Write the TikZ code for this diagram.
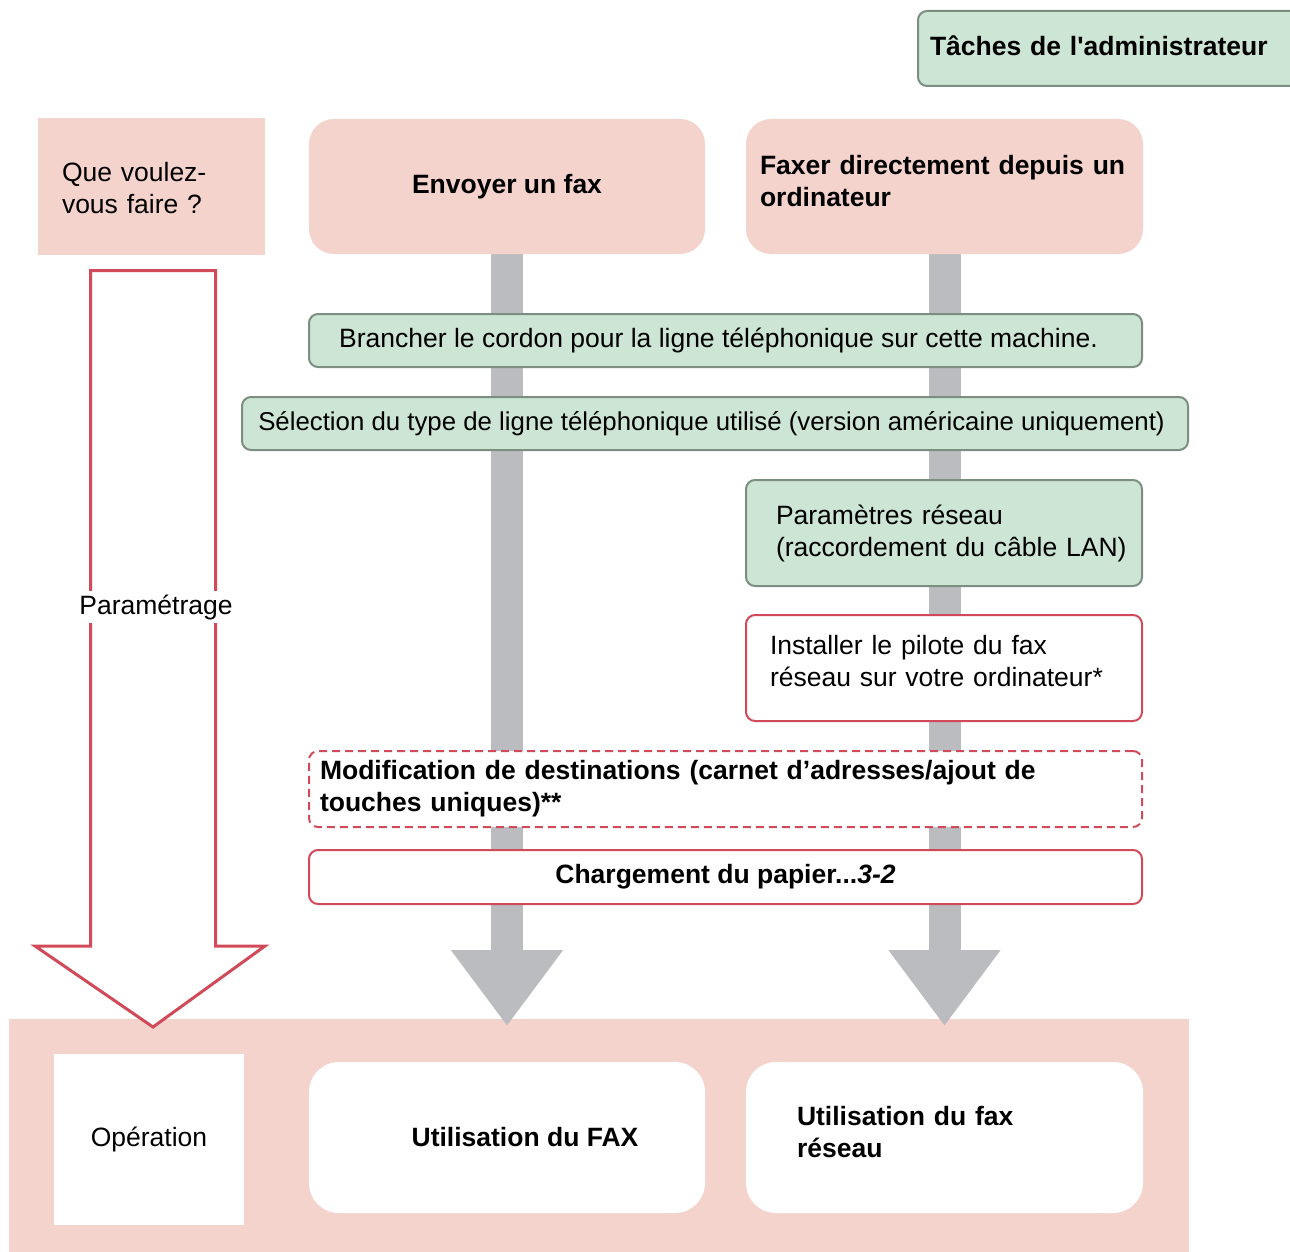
\documentclass[tikz,border=0pt]{standalone}
\usepackage{fontspec}
\setmainfont{Liberation Sans}
\usetikzlibrary{arrows.meta}
\definecolor{pinkc}{HTML}{F4D3CD}
\definecolor{greenc}{HTML}{CCE5D4}
\definecolor{greenb}{HTML}{7B8E80}
\definecolor{redc}{HTML}{D04A5A}
\definecolor{grayc}{HTML}{BBBCC0}
\pgfdeclarelayer{bg}
\pgfsetlayers{bg,main}
\newcommand{\liftby}[1]{\par\vspace{#1}\hrule height0pt}
\newcommand{\dropby}[1]{\hrule height0pt\vspace{#1}}
\tikzset{
  txt/.style={font=\fontsize{26.5}{32}\selectfont},
  btxt/.style={font=\fontsize{26.5}{32}\selectfont\bfseries},
  pinkbox/.style={fill=pinkc, draw=none, rounded corners=25pt},
  greenbox/.style={fill=greenc, draw=greenb, line width=2pt, rounded corners=9pt},
  redbox/.style={fill=white, draw=redc, line width=2pt, rounded corners=9pt},
  whitebox/.style={fill=white, draw=none, rounded corners=30pt},
  bigarrow/.style={draw=grayc, line width=32pt, -{Triangle[width=107pt,length=76pt]}},
}
\begin{document}
\begin{tikzpicture}[x=1pt,y=-1pt]
\useasboundingbox (0,0) rectangle (1290,1252);
\clip (0,0) rectangle (1290,1252);

% header
\node[greenbox, btxt, minimum width=382pt, minimum height=75pt, inner xsep=12pt, text width=358pt, align=left] (adm) at (1109,48.5) {T\^aches de l\textquotesingle administrateur\liftby{6pt}};

\node[fill=pinkc, txt, minimum width=227pt, minimum height=137pt, inner xsep=24pt, text width=179pt, align=left] (que) at (151.5,186.5) {\dropby{4pt}Que voulez-\\vous faire ?};
\node[pinkbox, btxt, minimum width=396pt, minimum height=135pt] (env) at (507,186.5) {Envoyer un fax};
\node[pinkbox, btxt, minimum width=397pt, minimum height=135pt, inner xsep=14pt, text width=369pt, align=left] (fax) at (944.5,186.5) {Faxer directement depuis un\\ordinateur\liftby{10pt}};

% steps
\node[greenbox, txt, minimum width=833pt, minimum height=53pt] (bran) at (725.5,340.5) {\hspace*{-14pt}Brancher le cordon pour la ligne téléphonique sur cette machine.};
\node[greenbox, font=\fontsize{25.8}{32}\selectfont, minimum width=946pt, minimum height=53pt] (sel) at (715,423.5) {\hspace*{-7pt}Sélection du type de ligne téléphonique utilisé (version américaine uniquement)};
\node[greenbox, txt, minimum width=396pt, minimum height=106pt, inner xsep=30pt, text width=336pt, align=left] (par) at (944,533) {Paramètres réseau\\\mbox{(raccordement du câble LAN)}};
\node[redbox, txt, minimum width=396pt, minimum height=106pt, inner xsep=24pt, text width=348pt, align=left] (inst) at (944,668) {Installer le pilote du fax\\réseau sur votre ordinateur*\liftby{14pt}};
\node[redbox, dash pattern=on 8pt off 5pt, btxt, minimum width=833pt, minimum height=76pt, inner xsep=11pt, text width=811pt, align=left] (mod) at (725.5,789) {Modification de destinations (carnet d’adresses/ajout de\\touches uniques)**};
\node[redbox, btxt, minimum width=833pt, minimum height=54pt] (charg) at (725.5,877) {Chargement du papier...\textit{3-2}};

% bottom
\node[fill=white, txt, minimum width=190pt, minimum height=171pt] (op) at (149,1139.5) {Opération};
\node[whitebox, btxt, minimum width=396pt, minimum height=151pt] (u1) at (507,1137.5) {\hspace*{36pt}Utilisation du FAX};
\node[whitebox, btxt, minimum width=397pt, minimum height=151pt, inner xsep=51pt, text width=295pt, align=left] (u2) at (944.5,1137.5) {Utilisation du fax\\réseau\liftby{10pt}};

\begin{pgfonlayer}{bg}
\node[fill=pinkc, minimum width=1180pt, minimum height=240pt, anchor=north west, inner sep=0pt] (zone) at (9,1019) {};
\coordinate (t1) at (507,1026);
\coordinate (t2) at (944.5,1026);
\draw[bigarrow] (env.south) -- (t1);
\draw[bigarrow] (fax.south) -- (t2);
\draw[redc, line width=3pt, fill=white, line join=miter]
  (90.5,270.5) -- (215.5,270.5) -- (215.5,946) -- (265,946) -- (153,1027)
  -- (35,946) -- (90.5,946) -- cycle;
\node[fill=white, txt, inner sep=3pt] (param) at (156,607) {Paramétrage};
\end{pgfonlayer}
\end{tikzpicture}
\end{document}
